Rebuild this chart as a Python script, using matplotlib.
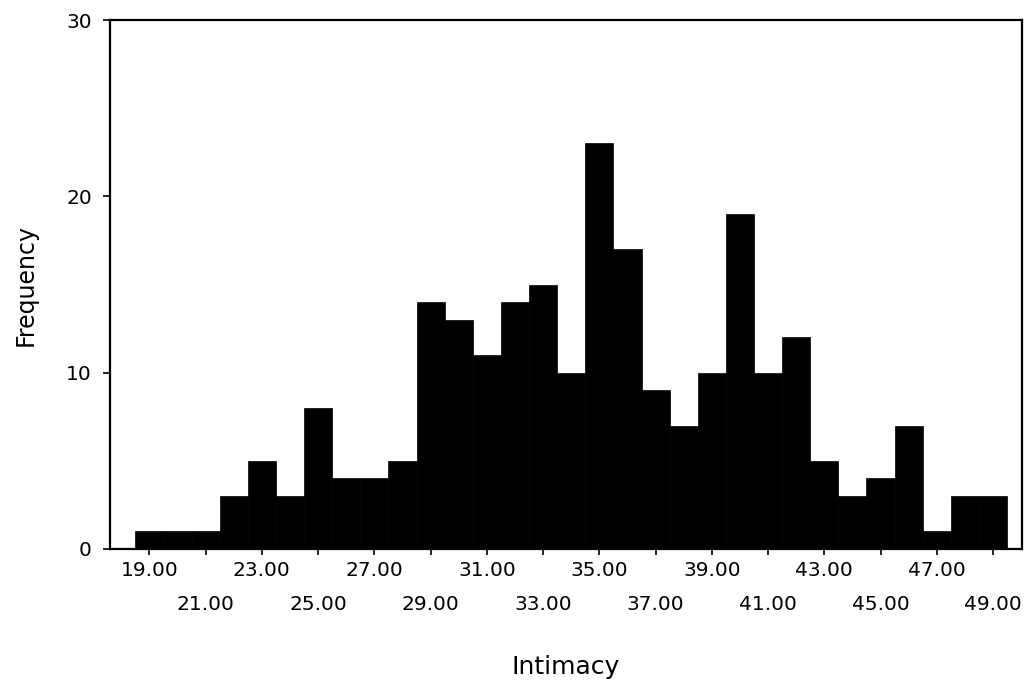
import matplotlib
matplotlib.use("Agg")
import matplotlib.pyplot as plt
import numpy as np

# Data: intimacy score bins (centres) and frequencies
scores = list(range(19, 50))
frequency = [1, 1, 1, 3, 5, 3, 8, 4, 4, 5,
             14, 13, 11, 14, 15, 10, 23, 17, 9, 7,
             10, 19, 10, 12, 5, 3, 4, 7, 1, 3, 3]
major_ticks = [19, 23, 27, 31, 35, 39, 43, 47]
minor_ticks = [21, 25, 29, 33, 37, 41, 45, 49]
y_ticks = [0, 10, 20, 30]

plt.rcParams['font.family'] = ['DejaVu Sans']

fig = plt.figure(figsize=(10.33, 6.84), dpi=100)
ax = fig.add_axes([110/1033, 1-549/684, (1022-110)/1033, (549-20)/684])

ax.bar(scores, frequency, width=1.0, align='center', color='black',
       edgecolor='black', linewidth=0.5)

ax.set_xlim(17.6, 50.03)
ax.set_ylim(0, 30)

ax.set_xticks(major_ticks)
ax.set_xticklabels([f"{v:.2f}" for v in major_ticks])
ax.set_xticks(minor_ticks, minor=True)
ax.set_xticklabels([f"{v:.2f}" for v in minor_ticks], minor=True)
ax.tick_params(axis='x', which='major', direction='out', length=4, width=1.2,
               pad=5, labelsize=14.5, colors='black')
ax.tick_params(axis='x', which='minor', direction='out', length=4, width=1.2,
               pad=29, labelsize=14.5, colors='black')

ax.set_yticks(y_ticks)
ax.set_yticklabels([str(v) for v in y_ticks])
ax.tick_params(axis='y', direction='out', length=5, width=1.2, pad=8,
               labelsize=14.5, colors='black')

for sp in ax.spines.values():
    sp.set_linewidth(1.6)
    sp.set_color('black')

ax.set_xlabel("Intimacy", fontsize=18)
ax.xaxis.set_label_coords(0.5, -0.2)
ax.xaxis.label.set_va('top')

ax.set_ylabel("Frequency", fontsize=17)
ax.yaxis.label.set_va('center')
ax.yaxis.set_label_coords(-0.093, 0.5)

fig.savefig("out.png", dpi=100, facecolor='white')
